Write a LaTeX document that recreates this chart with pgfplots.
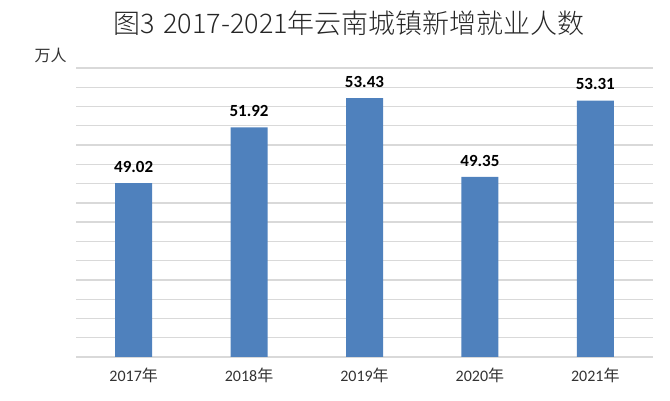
\documentclass[border=0pt]{standalone}
\usepackage{fontspec}
\setmainfont{Carlito}
\newfontfamily\cjk{Noto Sans CJK SC}
\newfontfamily\cjklight{Noto Sans CJK SC}[UprightFont=* Light]
\usepackage{pgfplots}
\pgfplotsset{compat=1.18}
\definecolor{barblue}{RGB}{79,129,189}
\definecolor{gridgray}{RGB}{217,217,217}
\begin{document}
\begin{tikzpicture}
\path[use as bounding box] (0,0) rectangle (670pt,401pt);
\begin{axis}[
  at={(76pt,44pt)}, anchor=south west,
  scale only axis, width=577pt, height=289pt,
  xmin=-0.5, xmax=4.5, ymin=40, ymax=55,
  ytick={40,41,...,55}, yticklabels={},
  ymajorgrids, grid style={gridgray, line width=1.3pt},
  major tick length=0pt,
  axis line style={draw=none},
  xtick={0,1,2,3,4},
  xticklabels={2017{\cjk 年},2018{\cjk 年},2019{\cjk 年},2020{\cjk 年},2021{\cjk 年}},
  xticklabel style={font=\fontsize{16}{18}\selectfont, text=black!80, yshift=-7pt},
  ybar, bar width=37pt,
  nodes near coords,
  nodes near coords style={font=\fontsize{17}{19}\selectfont\bfseries, text=black, yshift=7pt, /pgf/number format/assume math mode=true, /pgf/number format/fixed, /pgf/number format/precision=2, /pgf/number format/fixed zerofill},
]
\addplot[fill=barblue, draw=none] coordinates {(0,49.02) (1,51.92) (2,53.43) (3,49.35) (4,53.31)};
\end{axis}
\node[font=\cjklight\fontsize{27}{30}\selectfont, text=black!85] at (349pt,378pt) {图3\hspace{9pt}2017-2021年云南城镇新增就业人数};
\node[font=\cjk\fontsize{16}{18}\selectfont, text=black!80] at (50.5pt,346pt) {万人};
\end{tikzpicture}
\end{document}
